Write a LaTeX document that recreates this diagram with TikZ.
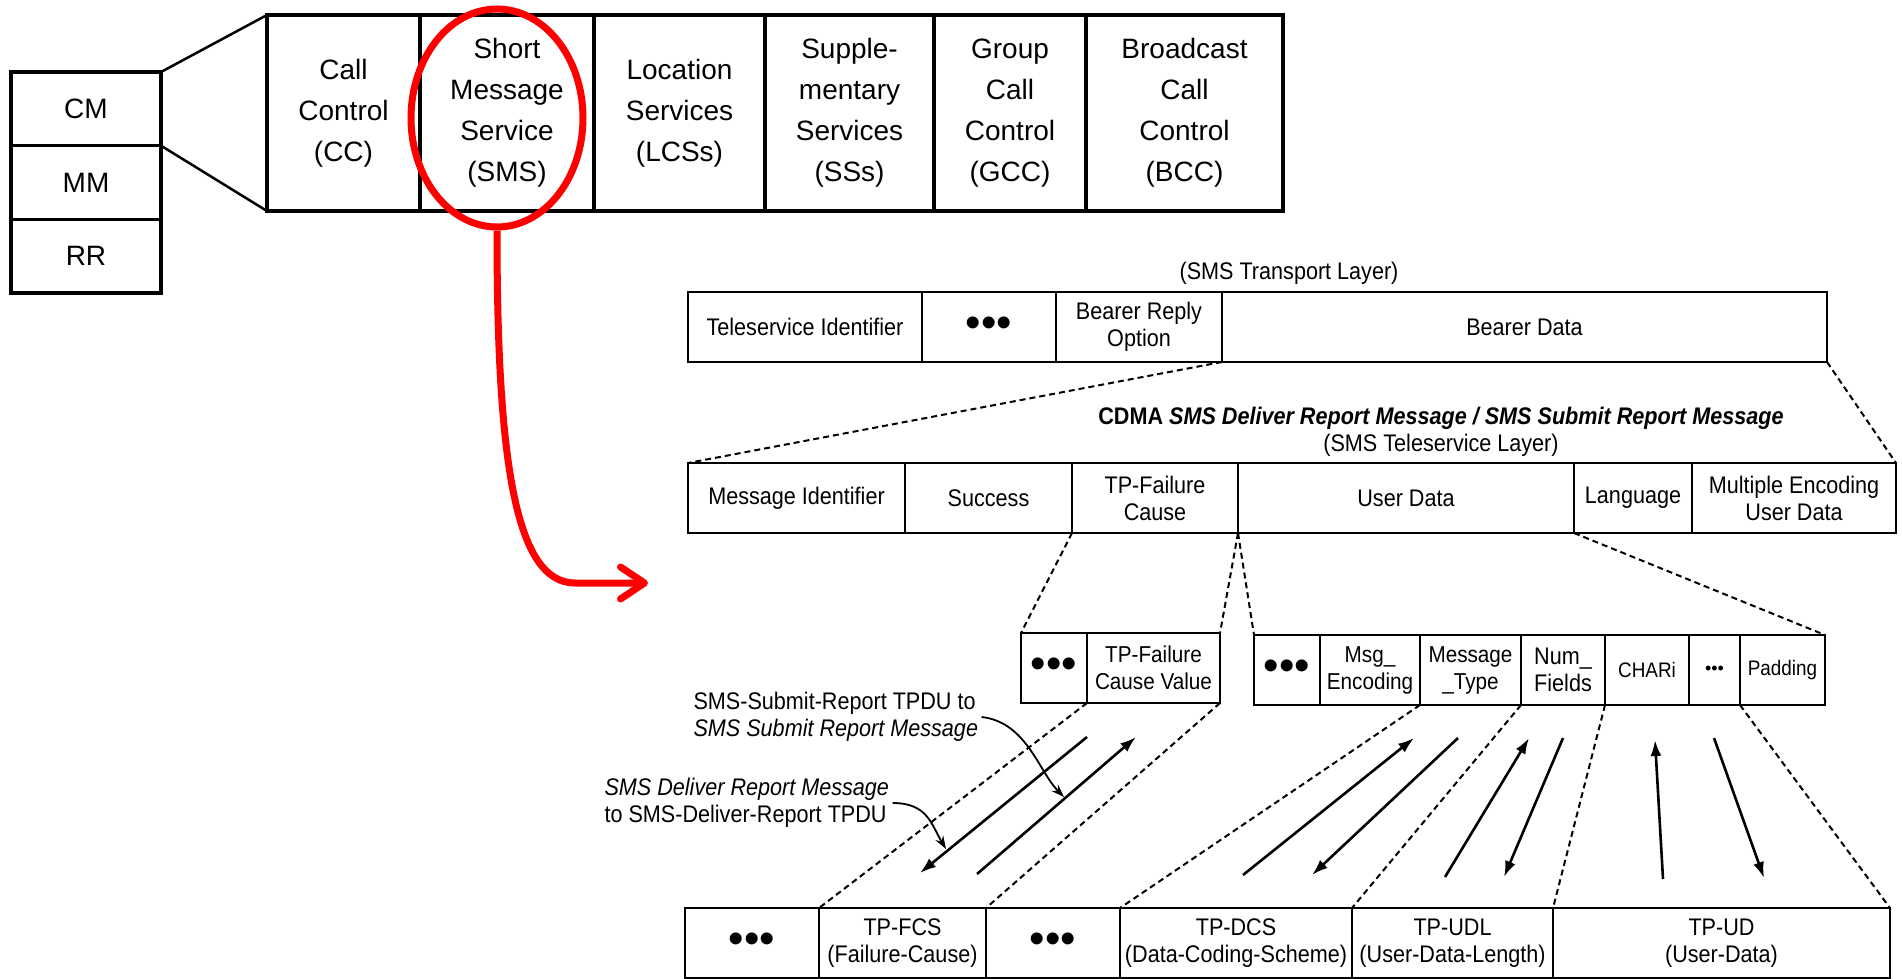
\documentclass[tikz,border=0pt]{standalone}
\usepackage{fontspec}
\setmainfont{Liberation Sans}
\newfontfamily\narrowfont{Liberation Sans}[FakeStretch=0.9]
\usetikzlibrary{arrows.meta,positioning,shapes.geometric}

\newcommand{\layerfont}{\fontsize{28}{41}\selectfont}
\newcommand{\fieldfont}{\narrowfont\fontsize{24}{27}\selectfont}
\newcommand{\tightfont}{\narrowfont\fontsize{23}{27}\selectfont}
\newcommand{\smallfont}{\narrowfont\fontsize{21}{24}\selectfont}
\newcommand{\bigdots}{{\normalfont\fontsize{44}{44}\selectfont •••}}
\newcommand{\tinydots}{{\normalfont\fontsize{18}{18}\selectfont •••}}

\begin{document}
\begin{tikzpicture}[
  x=1pt, y=-1pt,
  layer/.style={draw, line width=3.5pt, outer sep=0pt, minimum height=196pt, inner sep=0pt, align=center, font=\layerfont},
  stackbox/.style={draw, line width=3.5pt, outer sep=0pt, minimum width=150pt, minimum height=73.7pt, inner sep=0pt, font=\layerfont},
  field/.style={draw, line width=2pt, outer sep=0pt, minimum height=70pt, inner sep=0pt, align=center, font=\fieldfont},
  zoomline/.style={line width=2pt, dash pattern=on 6pt off 4pt},
  flow/.style={line width=2.6pt, -{Latex[length=16pt,width=11pt]}},
  callout/.style={line width=1.8pt, -{Stealth[length=13pt,width=9pt]}},
  hilite/.style={draw=red, line width=7pt}
]
\useasboundingbox (0,0) rectangle (1902,979);

% GSM protocol stack
\node[stackbox, anchor=north west] (cm) at (11,72) {CM};
\node[stackbox, below=0pt of cm] (mm) {MM};
\node[stackbox, below=0pt of mm] (rr) {RR};

\node[layer, minimum width=153pt, anchor=north west] (cc) at (267,15) {Call\\Control\\(CC)};
\node[layer, minimum width=174pt, right=0pt of cc] (sms) {Short\\Message\\Service\\(SMS)};
\node[layer, minimum width=171pt, right=0pt of sms] (lcs) {Location\\Services\\(LCSs)};
\node[layer, minimum width=169pt, right=0pt of lcs] (ss) {Supple-\\mentary\\Services\\(SSs)};
\node[layer, minimum width=152pt, right=0pt of ss] (gcc) {Group\\Call\\Control\\(GCC)};
\node[layer, minimum width=197pt, right=0pt of gcc] (bcc) {Broadcast\\Call\\Control\\(BCC)};

\draw[line width=2.5pt] (cm.north east) -- (cc.north west);
\draw[line width=2.5pt] (cm.south east) -- (cc.south west);

% SMS highlight
\node[hilite, ellipse, minimum width=172pt, minimum height=218pt, inner sep=0pt] (ring) at (497,118) {};
\coordinate (target) at (648,583);
\draw[red, line width=7pt, -{Straight Barb[length=24pt,width=32pt,round]}] (ring.south) .. controls (497,460) and (515,583) .. (575,583) -- (target);

% transport layer
\node[font=\fieldfont] (tlayer) at (1289,273) {(SMS Transport Layer)};
\node[field, minimum width=234pt, anchor=north west] (teleid) at (688,292) {Teleservice Identifier};
\node[field, minimum width=134pt, right=0pt of teleid] (tdots) {\bigdots};
\node[field, minimum width=166pt, right=0pt of tdots] (reply) {Bearer Reply\\Option};
\node[field, minimum width=605pt, right=0pt of reply] (bearer) {Bearer Data};

% teleservice layer
\node[font=\fieldfont, align=center] (tstitle) at (1441,432) {\textbf{CDMA \textit{SMS Deliver Report Message / SMS Submit Report Message}}\\(SMS Teleservice Layer)};
\node[field, minimum width=217pt, anchor=north west] (msgid) at (688,463) {Message Identifier};
\node[field, minimum width=167pt, right=0pt of msgid] (success) {Success};
\node[field, minimum width=166pt, right=0pt of success] (failcause) {TP-Failure\\Cause};
\node[field, minimum width=336pt, right=0pt of failcause] (userdata) {User Data};
\node[field, minimum width=118pt, right=0pt of userdata] (lang) {Language};
\node[field, minimum width=204pt, right=0pt of lang] (multienc) {Multiple Encoding\\User Data};

% subparameters
\node[field, minimum width=66pt, anchor=north west] (fdots) at (1021,633) {\bigdots};
\node[field, minimum width=133pt, right=0pt of fdots, font=\tightfont] (fcvalue) {TP-Failure\\Cause Value};

\node[field, minimum width=66pt, anchor=north west] (udots) at (1254,635) {\bigdots};
\node[field, minimum width=100pt, right=0pt of udots, font=\tightfont] (msgenc) {Msg\_\\Encoding};
\node[field, minimum width=101pt, right=0pt of msgenc, font=\tightfont] (msgtype) {Message\\\_Type};
\node[field, minimum width=84pt, right=0pt of msgtype] (numfields) {Num\_\\Fields};
\node[field, minimum width=84pt, right=0pt of numfields, font=\smallfont] (chari) {CHARi};
\node[field, minimum width=51pt, right=0pt of chari] (cdots) {\tinydots};
\node[field, minimum width=85pt, right=0pt of cdots, font=\smallfont] (padding) {Padding};

% GSM TPDU
\node[field, minimum width=134pt, anchor=north west] (odots) at (685,908) {\bigdots};
\node[field, minimum width=167pt, right=0pt of odots] (tpfcs) {TP-FCS\\(Failure-Cause)};
\node[field, minimum width=134pt, right=0pt of tpfcs] (mdots) {\bigdots};
\node[field, minimum width=232pt, right=0pt of mdots] (tpdcs) {TP-DCS\\(Data-Coding-Scheme)};
\node[field, minimum width=201pt, right=0pt of tpdcs] (tpudl) {TP-UDL\\(User-Data-Length)};
\node[field, minimum width=337pt, right=0pt of tpudl] (tpud) {TP-UD\\(User-Data)};

% expansion lines
\draw[zoomline] (reply.south east) -- (msgid.north west);
\draw[zoomline] (bearer.south east) -- (multienc.north east);
\draw[zoomline] (failcause.south west) -- (fdots.north west);
\draw[zoomline] (failcause.south east) -- (fcvalue.north east);
\draw[zoomline] (userdata.south west) -- (udots.north west);
\draw[zoomline] (userdata.south east) -- (padding.north east);
\draw[zoomline] (fcvalue.south west) -- (tpfcs.north west);
\draw[zoomline] (fcvalue.south east) -- (tpfcs.north east);
\draw[zoomline] (msgenc.south east) -- (tpdcs.north west);
\draw[zoomline] (msgtype.south east) -- (tpdcs.north east);
\draw[zoomline] (numfields.south east) -- (tpud.north west);
\draw[zoomline] (cdots.south east) -- (tpud.north east);

% mapping arrows
\foreach \n/\fx/\fy/\tx/\ty in {fa/1087/737/920/873, fb/977/874/1136/737,
    ua/1243/875/1414/738, ub/1458/738/1312/875, uc/1445/877/1529/738,
    ud/1563/738/1504/877, ue/1663/879/1655/740, uf/1714/738/1764/878} {
  \coordinate (\n-from) at (\fx,\fy);
  \coordinate (\n-to) at (\tx,\ty);
  \draw[flow] (\n-from) -- (\n-to);
}

% notes
\node[font=\fieldfont, align=left, anchor=west] (submitnote) at (690,717) {SMS-Submit-Report TPDU to\\\textit{SMS Submit Report Message}};
\node[font=\fieldfont, align=left, anchor=west] (delivernote) at (601,803) {\textit{SMS Deliver Report Message}\\to SMS-Deliver-Report TPDU};
\coordinate (submittip) at (1064,797);
\coordinate (delivertip) at (946,849);
\draw[callout] (submitnote.east) .. controls +(45,5) and +(-25,-25) .. (submittip);
\draw[callout] (delivernote.east) .. controls +(35,0) and +(-15,-25) .. (delivertip);
\end{tikzpicture}
\end{document}
